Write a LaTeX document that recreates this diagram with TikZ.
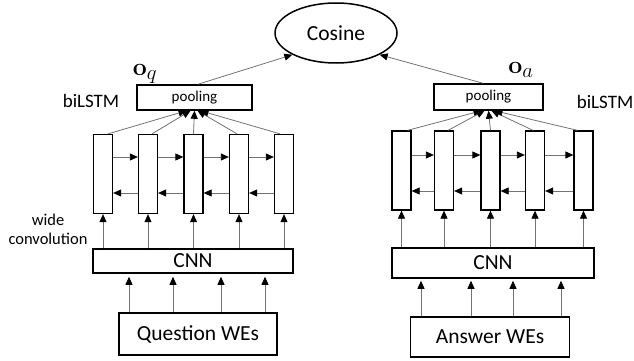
\documentclass[tikz,border=0pt]{standalone}
\usepackage[no-math]{fontspec}
\setmainfont{Carlito}
\usetikzlibrary{arrows.meta,shapes.geometric}
\begin{document}
\begin{tikzpicture}[x=1pt,y=-1pt,
  box/.style={draw=black, line width=1.5pt, inner sep=0pt},
  cell/.style={draw=black, line width=1.3pt, minimum width=19pt, minimum height=79pt, inner sep=0pt},
  conn/.style={draw=black!55, line width=0.8pt, -{Triangle[length=8pt,width=7pt,color=black]}},
  bigtxt/.style={font=\fontsize{21.5}{23}\selectfont},
  midtxt/.style={font=\fontsize{19}{21}\selectfont},
  smalltxt/.style={font=\fontsize{15}{17}\selectfont},
  mathlbl/.style={font=\fontsize{29}{31}\selectfont, inner sep=0pt}]
\useasboundingbox (0,0) rectangle (634,361);
% Cosine
\node[box, ellipse, minimum width=122pt, minimum height=60pt, bigtxt] (cos) at (336,33) {Cosine};
% pooling
\node[box, minimum width=115pt, minimum height=25pt, smalltxt] (poolL) at (194.5,97.5) {pooling};
\node[box, minimum width=109pt, minimum height=26pt, smalltxt] (poolR) at (488.5,97) {pooling};
\node[mathlbl] (oq) at (145,74) {$\mathbf{o}_q$};
\node[mathlbl] (oa) at (521,70) {$\mathbf{o}_a$};
\node[midtxt] (bL) at (91,101) {biLSTM};
\node[midtxt, anchor=east, inner sep=0pt] (bR) at (633.5,102) {biLSTM};
\node[font=\fontsize{16.5}{19}\selectfont, align=center, inner sep=0pt] (wc) at (48,229) {wide\\convolution};
% left cells
\foreach \i/\x in {1/103,2/148,3/193.5,4/239,5/284}
  \node[cell] (L\i) at (\x,174) {};
% right cells
\foreach \i/\x in {1/401.5,2/444,3/490.5,4/535,5/583.5}
  \node[cell] (R\i) at (\x,170.5) {};
% CNN
\node[box, minimum width=200pt, minimum height=24pt, bigtxt] (cnnL) at (193,261) {CNN};
\node[box, minimum width=202pt, minimum height=30pt, bigtxt] (cnnR) at (493,263) {CNN};
% WEs
\node[box, minimum width=158pt, minimum height=42pt, bigtxt] (qwe) at (198,334) {Question WEs};
\node[box, minimum width=159pt, minimum height=40pt, bigtxt] (awe) at (490,337) {Answer WEs};
% to cosine
\draw[conn] ([xshift=3.5pt]poolL.north) -- (cos.south west);
\draw[conn] ([xshift=-5.5pt]poolR.north) -- (cos.south east);
% biLSTM horizontal arrows
\foreach \a/\b in {1/2,2/3,3/4,4/5}{
  \draw[conn] ([yshift=17pt]L\a.east) -- ([yshift=17pt]L\b.west);
  \draw[conn] ([yshift=-19pt]L\b.west) -- ([yshift=-19pt]L\a.east);
  \draw[conn] ([yshift=15.5pt]R\a.east) -- ([yshift=15.5pt]R\b.west);
  \draw[conn] ([yshift=-20.5pt]R\b.west) -- ([yshift=-20.5pt]R\a.east);
}
% cells to pooling
\draw[conn] ([xshift=5pt]L1.north) -- ([xshift=-8pt]poolL.south);
\draw[conn] ([xshift=4pt]L2.north) -- ([xshift=-4pt]poolL.south);
\draw[conn] (L3.north) -- (poolL.south);
\draw[conn] ([xshift=-2pt]L4.north) -- ([xshift=3pt]poolL.south);
\draw[conn] ([xshift=-4pt]L5.north) -- ([xshift=6pt]poolL.south);
\draw[conn] ([xshift=6pt]R1.north) -- ([xshift=-7pt]poolR.south);
\draw[conn] ([xshift=4pt]R2.north) -- ([xshift=-4pt]poolR.south);
\draw[conn] (R3.north) -- (poolR.south);
\draw[conn] ([xshift=-2pt]R4.north) -- ([xshift=3pt]poolR.south);
\draw[conn] ([xshift=-6pt]R5.north) -- ([xshift=6pt]poolR.south);
% CNN to cells
\foreach \i in {1,...,5}{
  \draw[conn] (cnnL.north -| L\i.south) -- (L\i.south);
  \draw[conn] (cnnR.north -| R\i.south) -- (R\i.south);
}
% WEs to CNN
\foreach \x in {129,173,221,265}
  \draw[conn, shorten >=3pt] (qwe.north -| \x,0) -- (cnnL.south -| \x,0);
\foreach \x in {421,471,513,561}
  \draw[conn, shorten >=2pt] (awe.north -| \x,0) -- (cnnR.south -| \x,0);
\end{tikzpicture}
\end{document}
